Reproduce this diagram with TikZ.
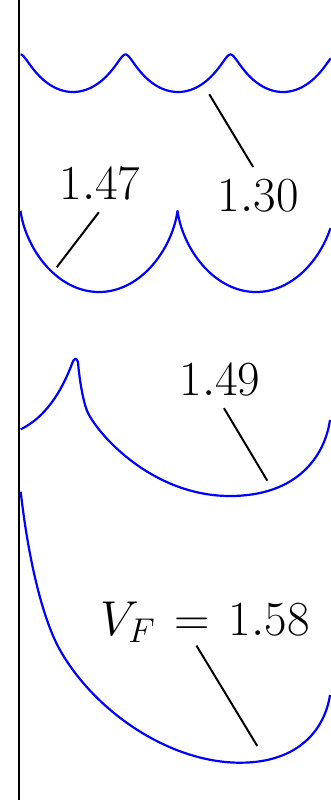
\RequirePackage{fix-cm}
\documentclass[tikz,border=0pt]{standalone}
\usepackage{tikz}
\tikzset{
  profile/.style={draw=blue, line width=2.2pt, line join=round},
  leader/.style={draw=black, line width=2pt},
  wall/.style={draw=black, line width=2.6pt},
  vlabel/.style={font=\fontsize{49}{59}\selectfont, inner sep=13pt, anchor=base},
}
\begin{document}
\begin{tikzpicture}[x=1pt, y=-1pt]
\useasboundingbox (0,0) rectangle (330,800);

% Wall
\draw[wall] (19,0) -- (19,800);

% Surface profiles (top to bottom)
\draw[profile] plot[domain=0:18.2, samples=220, variable=\t]
  ({20.5+16.71*(\t-0.6*sin(\t r))}, {73.25-18.75*cos(\t r)});
\draw[profile] plot[domain=0:11.61, samples=260, variable=\t]
  ({20.5+24.99*(\t-0.97*sin(\t r))}, {251.5-40.5*cos(\t r)});
\draw[profile] (20.7,429.3) .. controls (45,417.6) and (61.5,392.2) .. (72.5,362.5)
  .. controls (74,358.5) and (76.5,357) .. (78,362)
  .. controls (79.5,382) and (83.7,402.2) .. (86.7,410)
  .. controls (94.7,430.8) and (150,496) .. (230,496)
  .. controls (296.7,496) and (324.5,457) .. (330,420);
\draw[profile] (20.7,491.7) .. controls (29,565) and (44,621.7) .. (60,650)
  .. controls (95,712) and (170,762.7) .. (240,762.7)
  .. controls (300,762.7) and (325,728) .. (330,695);

% Labels
\node[vlabel] (lbl130) at (258.2,211.7) {$1.30$};
\node[vlabel] (lbl147) at (99.9,199) {$1.47$};
\node[vlabel] (lbl149) at (219.9,395) {$1.49$};
\node[vlabel, inner ysep=3pt] (lbl158) at (205,635) {$V_F \mkern2mu= \mkern2mu 1.58$};

% Leader ends on the profiles
\coordinate (tip130) at (209.3,94.3);
\coordinate (tip147) at (56.7,267.3);
\coordinate (tip149) at (267.3,480.7);
\coordinate (tip158) at (257.3,746);

\draw[leader] (lbl130.100) -- (tip130);
\draw[leader] (lbl147.268) -- (tip147);
\draw[leader] (lbl149.278) -- (tip149);
\draw[leader] (lbl158.250) -- (tip158);

\end{tikzpicture}
\end{document}
